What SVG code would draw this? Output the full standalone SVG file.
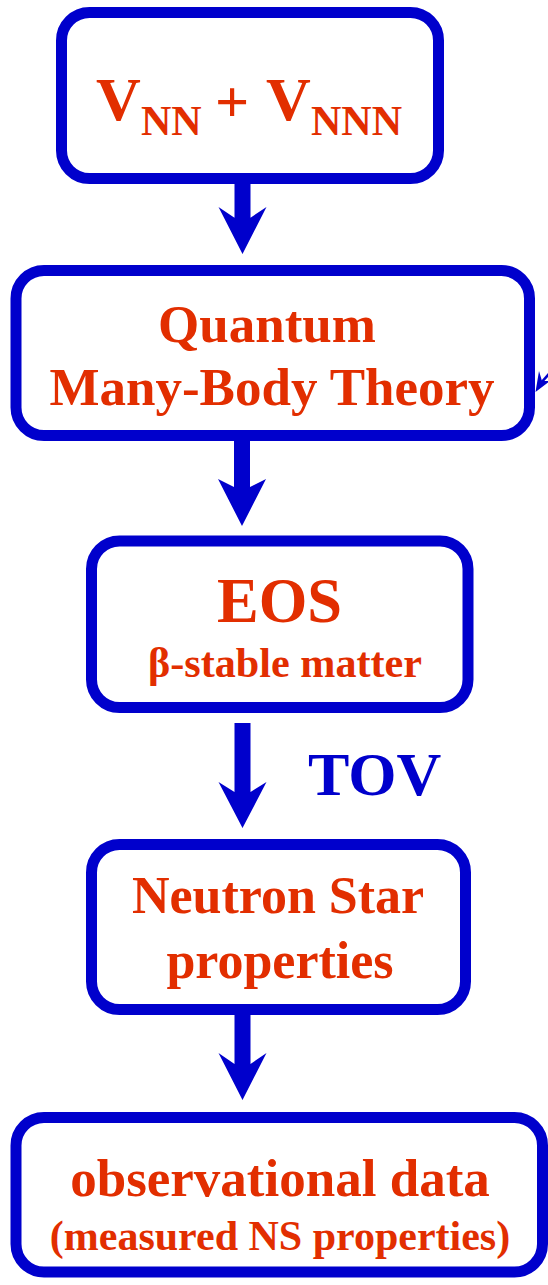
<svg xmlns="http://www.w3.org/2000/svg" width="548" height="1285" viewBox="0 0 548 1285">
  <style>
    .box { fill: #ffffff; stroke: #0000cc; stroke-width: 11; }
    .t { font-family: "Liberation Serif", "Times New Roman", serif; font-weight: bold; fill: #e22e00; }
    .c { text-anchor: middle; }
    .arr { fill: #0000cc; }
  </style>
  <rect width="548" height="1285" fill="#ffffff"/>
  <g id="connectors">
    <path class="arr" d="M234.5,182 H250.5 V217.7 L266.5,207 L242.5,254 L218.5,207 L234.5,217.7 Z"/>
    <path class="arr" d="M234,438 H250 V487 L266,479 L242,526 L218,479 L234,487 Z"/>
    <path class="arr" d="M234.5,723 H250.5 V792 L266.5,782 L242.5,828 L218.5,782 L234.5,792 Z"/>
    <path class="arr" d="M234.5,1012 H250.5 V1064 L266.5,1053 L242.5,1100 L218.5,1053 L234.5,1064 Z"/>
    <line x1="540" y1="384" x2="556" y2="366" stroke="#0000cc" stroke-width="2.5"/>
    <polygon class="arr" points="535.5,392 539,371 542,381 550,381"/>
    <text class="t" x="308" y="795" font-size="62" style="fill:#0000cc">TOV</text>
  </g>
  <g id="vnn">
    <rect class="box" x="61.5" y="12.5" width="377" height="166" rx="28"/>
    <text class="t" font-size="62"><tspan x="96" y="120">V</tspan><tspan x="141" y="135" font-size="42">NN</tspan><tspan x="215" y="122" font-size="60">+</tspan><tspan x="266" y="120">V</tspan><tspan x="311" y="135" font-size="42">NNN</tspan></text>
  </g>
  <g id="qmbt">
    <rect class="box" x="16" y="270.5" width="513.5" height="165" rx="28"/>
    <text class="t c" x="267" y="342" font-size="53">Quantum</text>
    <text class="t c" x="272" y="405" font-size="53">Many-Body Theory</text>
  </g>
  <g id="eos">
    <rect class="box" x="91.5" y="541" width="376.5" height="166.5" rx="28"/>
    <text class="t c" x="279.5" y="622" font-size="62.5">EOS</text>
    <text class="t c" x="285" y="677" font-size="42" textLength="274" lengthAdjust="spacingAndGlyphs">β-stable matter</text>
  </g>
  <g id="ns">
    <rect class="box" x="91.5" y="844.5" width="374" height="165" rx="28"/>
    <text class="t c" x="278" y="913" font-size="52">Neutron Star</text>
    <text class="t c" x="280" y="978" font-size="52">properties</text>
  </g>
  <g id="obs">
    <rect class="box" x="16" y="1117.5" width="526.5" height="154.5" rx="28"/>
    <text class="t c" x="280" y="1196" font-size="53">observational data</text>
    <text class="t c" x="280" y="1250" font-size="42">(measured NS properties)</text>
  </g>
</svg>
